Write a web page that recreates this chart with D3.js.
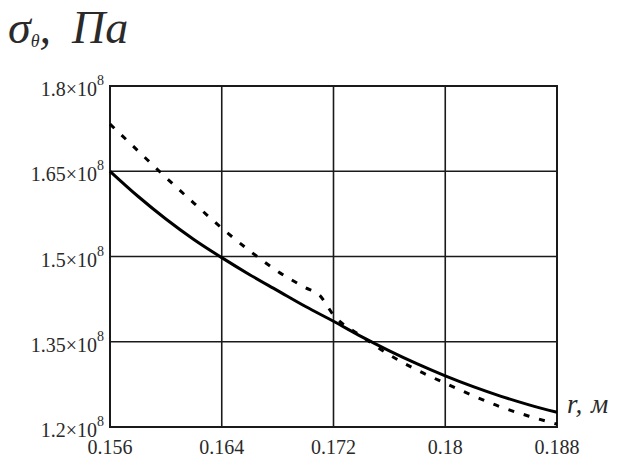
<!DOCTYPE html>
<html>
<head>
<meta charset="utf-8">
<script src="https://d3js.org/d3.v7.min.js"></script>
<style>
  body { margin: 0; background: #fff; }
  text { font-family: "Liberation Serif", "DejaVu Serif", serif; fill: #2a2a2a; }
</style>
</head>
<body>
<div id="chart"></div>
<script>
// radius, m
var radius = [0.156, 0.158, 0.160, 0.162, 0.164, 0.166, 0.168, 0.170, 0.172,
              0.174, 0.176, 0.178, 0.180, 0.182, 0.184, 0.186, 0.188];
// solid curve, x1e8 Pa
var solidStress = [1.650, 1.606, 1.566, 1.530, 1.498, 1.468, 1.440, 1.412, 1.386,
                   1.359, 1.334, 1.311, 1.290, 1.271, 1.254, 1.239, 1.226];
// dashed curve (has a small kink near 0.172)
var dashRadius = [0.156, 0.158, 0.160, 0.162, 0.164, 0.166, 0.168, 0.170, 0.171,
                  0.172, 0.174, 0.176, 0.178, 0.180, 0.182, 0.184, 0.186, 0.188];
var dashStress = [1.733, 1.686, 1.639, 1.594, 1.550, 1.510, 1.474, 1.445, 1.432,
                  1.397, 1.360, 1.327, 1.300, 1.277, 1.255, 1.235, 1.219, 1.205];

var xTicks = [0.156, 0.164, 0.172, 0.18, 0.188];
var yTicks = [1.2, 1.35, 1.5, 1.65, 1.8];

var width = 617, height = 459;
var margin = {top: 86, right: 60, bottom: 32, left: 110};

var svg = d3.select("#chart").append("svg")
    .attr("width", width)
    .attr("height", height);

var x = d3.scaleLinear().domain([0.156, 0.188]).range([margin.left, width - margin.right]);
var y = d3.scaleLinear().domain([1.2, 1.8]).range([height - margin.bottom, margin.top]);

// grid
svg.append("g").selectAll("line").data(xTicks.slice(1, -1)).enter().append("line")
    .attr("x1", function(d) { return x(d); }).attr("x2", function(d) { return x(d); })
    .attr("y1", y(1.2)).attr("y2", y(1.8))
    .attr("stroke", "#1a1a1a").attr("stroke-width", 1.6);
svg.append("g").selectAll("line").data(yTicks.slice(1, -1)).enter().append("line")
    .attr("y1", function(d) { return y(d); }).attr("y2", function(d) { return y(d); })
    .attr("x1", x(0.156)).attr("x2", x(0.188))
    .attr("stroke", "#1a1a1a").attr("stroke-width", 1.6);

// frame
svg.append("rect")
    .attr("x", x(0.156)).attr("y", y(1.8))
    .attr("width", x(0.188) - x(0.156)).attr("height", y(1.2) - y(1.8))
    .attr("fill", "none").attr("stroke", "#1a1a1a").attr("stroke-width", 2);

// x tick labels
svg.append("g").selectAll("text").data(xTicks).enter().append("text")
    .attr("x", function(d) { return x(d); })
    .attr("y", y(1.2) + 27)
    .attr("text-anchor", "middle")
    .attr("font-size", 20)
    .text(function(d) { return d; });

// y tick labels  a×10^8
var yl = svg.append("g").selectAll("g").data(yTicks).enter().append("g")
    .attr("transform", function(d) { return "translate(97," + y(d) + ")"; });
yl.append("text")
    .attr("y", 10)
    .attr("text-anchor", "end")
    .attr("font-size", 20)
    .text(function(d) { return d + "\u00d710"; });
yl.append("text")
    .attr("x", 0).attr("y", -1)
    .attr("font-size", 14)
    .text("8");

// curves
var line = d3.line()
    .x(function(d) { return x(d[0]); })
    .y(function(d) { return y(d[1]); })
    .curve(d3.curveMonotoneX);

svg.append("path")
    .datum(d3.zip(radius, solidStress))
    .attr("d", line)
    .attr("fill", "none").attr("stroke", "#000").attr("stroke-width", 3);

svg.append("path")
    .datum(d3.zip(dashRadius, dashStress))
    .attr("d", line)
    .attr("fill", "none").attr("stroke", "#000").attr("stroke-width", 3)
    .attr("stroke-dasharray", "6,10");

// title  σθ, Πa
var title = svg.append("text")
    .attr("x", 8).attr("y", 43)
    .attr("font-size", 46)
    .attr("font-style", "italic");
title.append("tspan").text("\u03c3");
title.append("tspan").attr("font-size", 18).attr("dy", 4).text("\u03b8");
title.append("tspan").attr("dy", -4).text(",");
title.append("tspan").attr("x", 72).text("\u041fa");

// axis label  r, м
svg.append("text")
    .attr("x", 567).attr("y", 413)
    .attr("font-size", 27)
    .attr("font-style", "italic")
    .attr("letter-spacing", 1)
    .text("r, \u043c");
</script>
</body>
</html>
